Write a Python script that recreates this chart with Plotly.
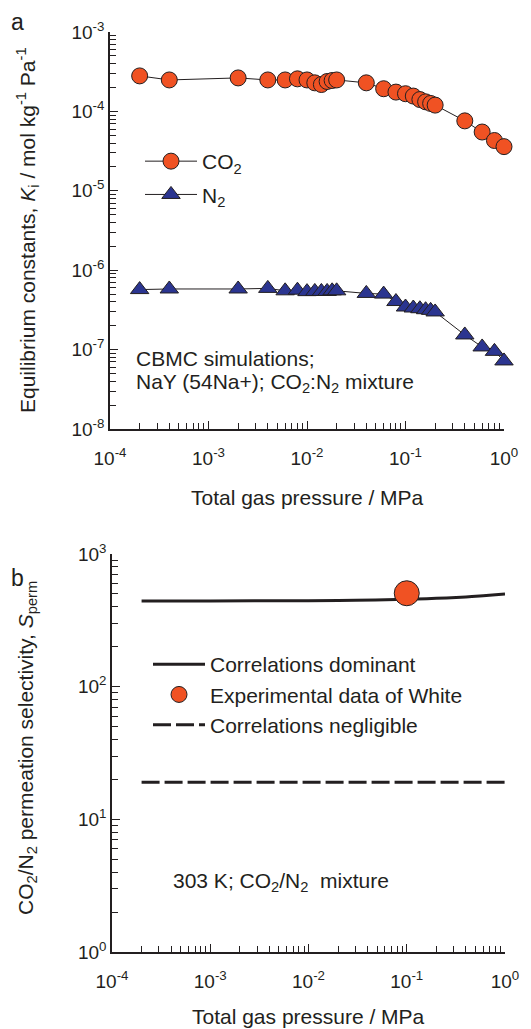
import plotly.graph_objects as go

# ---------------- data ----------------
pressure_mpa = [2e-4, 4e-4, 2e-3, 4e-3, 6e-3, 8e-3, 0.01, 0.012, 0.014, 0.016, 0.018, 0.02,
                0.04, 0.06, 0.08, 0.1, 0.12, 0.14, 0.16, 0.18, 0.2, 0.4, 0.6, 0.8, 1.0]
k_co2 = [2.8e-4, 2.49e-4, 2.64e-4, 2.49e-4, 2.49e-4, 2.57e-4, 2.49e-4, 2.29e-4, 2.18e-4, 2.38e-4,
         2.45e-4, 2.49e-4, 2.29e-4, 1.93e-4, 1.75e-4, 1.67e-4, 1.56e-4, 1.41e-4, 1.32e-4, 1.26e-4,
         1.20e-4, 7.6e-5, 5.5e-5, 4.3e-5, 3.6e-5]
k_n2 = [5.7e-7, 5.8e-7, 5.8e-7, 5.9e-7, 5.5e-7, 5.6e-7, 5.37e-7, 5.4e-7, 5.4e-7, 5.4e-7,
        5.5e-7, 5.5e-7, 5.1e-7, 5.0e-7, 4.03e-7, 3.44e-7, 3.34e-7, 3.27e-7, 3.18e-7, 3.12e-7,
        2.98e-7, 1.53e-7, 1.08e-7, 9.5e-8, 7.2e-8]

sel_pressure = [2e-4, 1e-3, 1e-2, 0.03, 0.1, 0.2, 0.4, 0.6, 0.8, 1.0]
sel_corr_dominant = [443, 443, 445, 448, 455, 463, 475, 485, 493, 500]
sel_pressure_neg = [2e-4, 1.0]
sel_corr_negligible = [19, 19]
exp_pressure = [0.1]
exp_white = [506]

x_tick_vals = [1e-4, 1e-3, 1e-2, 1e-1, 1]
x_tick_text = ["10<sup>-4</sup>", "10<sup>-3</sup>", "10<sup>-2</sup>", "10<sup>-1</sup>", "10<sup>0</sup>"]
ya_tick_vals = [1e-8, 1e-7, 1e-6, 1e-5, 1e-4, 1e-3]
ya_tick_text = ["10<sup>-8</sup>", "10<sup>-7</sup>", "10<sup>-6</sup>", "10<sup>-5</sup>", "10<sup>-4</sup>", "10<sup>-3</sup>"]
yb_tick_vals = [1, 10, 100, 1000]
yb_tick_text = ["10<sup>0</sup>", "10<sup>1</sup>", "10<sup>2</sup>", "10<sup>3</sup>"]

# ---------------- style ----------------
W, H = 531, 1029
INK = "#231F20"
ORANGE = "#F05223"
NAVY = "#2B3590"
FONT = "Arial, Liberation Sans, Helvetica, sans-serif"
FS = 21
TFS = 19


def minor_vals(lo_exp, hi_exp):
    return [m * 10 ** e for e in range(lo_exp, hi_exp) for m in range(2, 10)]


def px_x(px):
    return px / W


def px_y(py):
    return 1 - py / H


fig = go.Figure()

fig.add_trace(go.Scatter(
    x=pressure_mpa, y=k_co2, name="CO<sub>2</sub>", mode="lines+markers",
    line=dict(color=INK, width=1), cliponaxis=False,
    marker=dict(symbol="circle", size=16, color=ORANGE, line=dict(color=INK, width=1)),
    xaxis="x", yaxis="y", legend="legend", legendgroup="a1"))
fig.add_trace(go.Scatter(
    x=pressure_mpa, y=k_n2, name="N<sub>2</sub>", mode="lines+markers",
    line=dict(color=INK, width=1), cliponaxis=False,
    marker=dict(symbol="triangle-up", size=16, color=NAVY, line=dict(color=INK, width=1)),
    xaxis="x", yaxis="y", legend="legend", legendgroup="a2"))

fig.add_trace(go.Scatter(
    x=sel_pressure, y=sel_corr_dominant, name="Correlations dominant", mode="lines",
    line=dict(color=INK, width=3, shape="spline"), cliponaxis=False,
    xaxis="x2", yaxis="y2", legend="legend2", legendgroup="b1"))
fig.add_trace(go.Scatter(
    x=exp_pressure, y=exp_white, name="Experimental data of White", mode="markers",
    marker=dict(symbol="circle", size=25, color=ORANGE, line=dict(color=INK, width=1)),
    cliponaxis=False, xaxis="x2", yaxis="y2", legend="legend2", legendgroup="b2"))
fig.add_trace(go.Scatter(
    x=sel_pressure_neg, y=sel_corr_negligible, name="Correlations negligible", mode="lines",
    line=dict(color=INK, width=3, dash="18px,5px"), cliponaxis=False,
    xaxis="x2", yaxis="y2", legend="legend2", legendgroup="b3"))

axis_common = dict(
    type="log", showline=True, linecolor=INK, linewidth=1.5, mirror=False,
    ticks="inside", ticklen=8, tickwidth=1.2, tickcolor=INK,
    showgrid=False, zeroline=False, tickmode="array", automargin=False,
    tickfont=dict(family=FONT, size=TFS, color=INK),
)
minor_common = dict(ticks="inside", ticklen=6, tickwidth=1, tickcolor=INK, tickmode="array")

fig.update_layout(
    width=W, height=H, margin=dict(l=0, r=0, t=0, b=0, pad=0, autoexpand=False),
    paper_bgcolor="white", plot_bgcolor="white",
    font=dict(family=FONT, size=FS, color=INK),
    xaxis=dict(axis_common, range=[-4, 0], domain=[px_x(110), px_x(504)], anchor="y",
               tickvals=x_tick_vals, ticktext=x_tick_text, ticklabelstandoff=11,
               minor=dict(minor_common, tickvals=minor_vals(-4, 0))),
    yaxis=dict(axis_common, range=[-8, -3], domain=[px_y(429), px_y(32)], anchor="x",
               tickvals=ya_tick_vals, ticktext=ya_tick_text,
               minor=dict(minor_common, tickvals=minor_vals(-8, -3))),
    xaxis2=dict(axis_common, range=[-4, 0], domain=[px_x(112), px_x(505)], anchor="y2",
                tickvals=x_tick_vals, ticktext=x_tick_text, ticklabelstandoff=11,
                minor=dict(minor_common, tickvals=minor_vals(-4, 0))),
    yaxis2=dict(axis_common, range=[0, 3], domain=[px_y(952), px_y(554)], anchor="x2",
                tickvals=yb_tick_vals, ticktext=yb_tick_text,
                minor=dict(minor_common, tickvals=minor_vals(0, 3))),
    legend=dict(x=px_x(140), y=px_y(141), xanchor="left", yanchor="top",
                bgcolor="rgba(0,0,0,0)", font=dict(family=FONT, size=FS, color=INK),
                tracegroupgap=3, itemwidth=52),
    legend2=dict(x=px_x(148), y=px_y(644), xanchor="left", yanchor="top",
                 bgcolor="rgba(0,0,0,0)", font=dict(family=FONT, size=FS, color=INK),
                 tracegroupgap=0, itemwidth=52),
    showlegend=True,
)

ann = [
    dict(text="a", x=px_x(17), y=px_y(22), font=dict(size=23)),
    dict(text="b", x=px_x(17), y=px_y(578), font=dict(size=23)),
    dict(text="CBMC simulations;", x=px_x(134), y=px_y(358), xanchor="left"),
    dict(text="NaY (54Na+); CO<sub>2</sub>:N<sub>2</sub> mixture", x=px_x(134), y=px_y(383), xanchor="left"),
    dict(text="303 K; CO<sub>2</sub>/N<sub>2</sub>  mixture", x=px_x(171), y=px_y(882), xanchor="left"),
    dict(text="Total gas pressure / MPa", x=px_x(307), y=px_y(497)),
    dict(text="Total gas pressure / MPa", x=px_x(308), y=px_y(1016)),
    dict(text="Equilibrium constants, <i>K</i><sub>i</sub> / mol kg<sup>-1</sup> Pa<sup>-1</sup>",
         x=px_x(27), y=px_y(230), textangle=-90),
    dict(text="CO<sub>2</sub>/N<sub>2</sub> permeation selectivity, <i>S</i><sub>perm</sub>",
         x=px_x(27), y=px_y(748), textangle=-90),
]
for a in ann:
    base = dict(xref="paper", yref="paper", showarrow=False, xanchor="center", yanchor="middle",
                font=dict(family=FONT, size=FS, color=INK))
    f = a.pop("font", None)
    base.update(a)
    if f:
        base["font"] = dict(base["font"], **f)
    fig.add_annotation(**base)

fig.write_html("out.html", config={"displayModeBar": False},
               post_script="document.body.style.margin='0';document.body.style.padding='0';"
                           "document.body.style.overflow='hidden';")
